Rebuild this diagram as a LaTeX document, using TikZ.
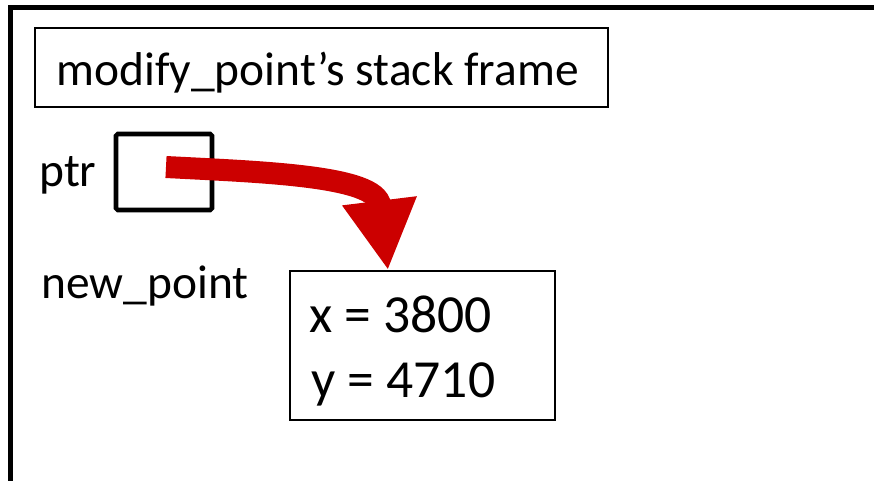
\documentclass[tikz,border=0pt]{standalone}
\usepackage{fontspec}
\setmainfont{Carlito}
\usepackage{tikz}
\usetikzlibrary{arrows.meta}
\definecolor{ptrred}{RGB}{204,0,0}

\begin{document}
\begin{tikzpicture}[
    every node/.style={font=\fontsize{27}{32}\selectfont, inner sep=0pt},
    framebox/.style={draw, line width=0.85pt},
    ptrbox/.style={draw, line width=2.6pt, rounded corners=1pt},
    valtext/.style={anchor=base west, font=\fontsize{30.5}{36}\selectfont},
  ]
    \useasboundingbox (0, 0) rectangle (17.48, -9.6);

    % 外框（只露出左边和上边）
    \draw[line width=2.85pt] (0.21, -9.8) -- (0.21, -0.15) -- (17.7, -0.15);

    % 栈帧标题
    \node[framebox, minimum width=11.46cm, minimum height=1.58cm] (title) at (6.43, -1.35) {};
    \node[anchor=base] (titletext) at (6.35, -1.70) {modify\_point’s stack frame};

    % ptr 变量
    \node[anchor=base west] (ptrname) at (0.78, -3.72) {ptr};
    \node[ptrbox, minimum width=1.92cm, minimum height=1.52cm] (ptr) at (3.28, -3.44) {};

    % new_point 变量及其成员
    \node[anchor=base west] (ptname) at (0.82, -5.96) {new\_point};
    \node[framebox, minimum width=5.3cm, minimum height=2.98cm] (pt) at (8.45, -6.91) {};
    \node[valtext] (xval) at (6.18, -6.64) {x = 3800};
    \node[valtext] (yval) at (6.22, -7.94) {y = 4710};

    % 指针箭头
    \draw[ptrred, line width=0.44cm, -{Triangle[width=1.4cm, length=1.4cm]}]
      ([shift={(0.04, 0.1)}]ptr.center) to[out=-3, in=97] ([xshift=-0.69cm]pt.north);
\end{tikzpicture}
\end{document}
